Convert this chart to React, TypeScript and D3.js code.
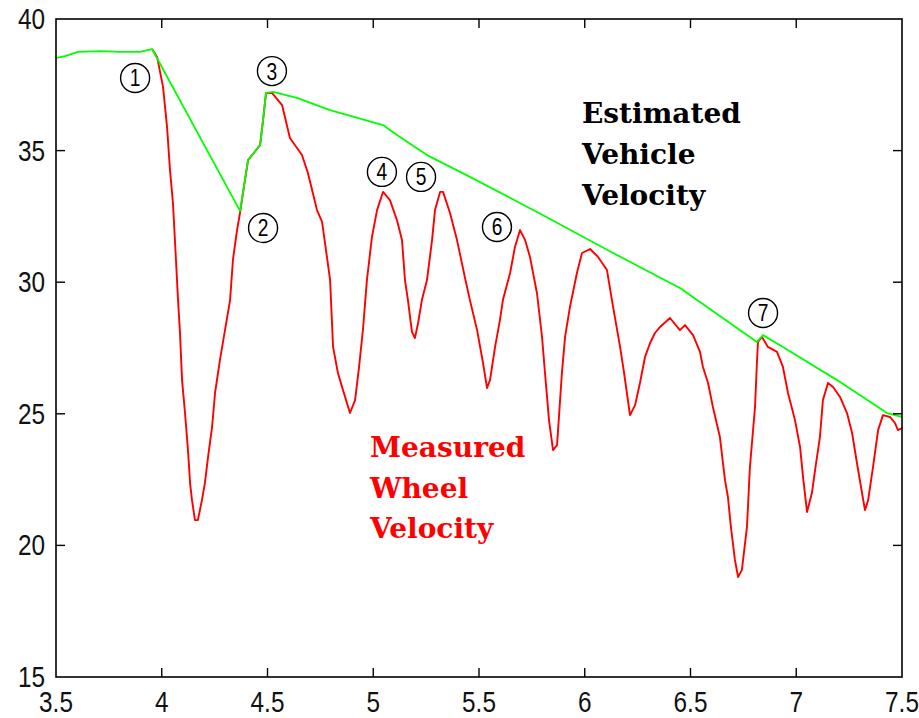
import * as d3 from "d3";

// wheel speed vs. estimated vehicle speed during ABS braking
const wheelX = [3.954, 3.978, 4.006, 4.025, 4.039, 4.053, 4.067, 4.077, 4.086, 4.096, 4.11, 4.124, 4.134, 4.143, 4.157, 4.171, 4.19, 4.204, 4.219, 4.238, 4.252, 4.275, 4.299, 4.323, 4.337, 4.356, 4.37, 4.408, 4.465, 4.479, 4.493, 4.521, 4.569, 4.606, 4.663, 4.691, 4.734, 4.758, 4.781, 4.796, 4.81, 4.833, 4.857, 4.89, 4.914, 4.933, 4.952, 4.97, 4.994, 5.018, 5.046, 5.079, 5.112, 5.136, 5.15, 5.164, 5.183, 5.197, 5.212, 5.23, 5.254, 5.278, 5.292, 5.316, 5.33, 5.363, 5.396, 5.434, 5.457, 5.491, 5.519, 5.538, 5.552, 5.576, 5.599, 5.613, 5.647, 5.67, 5.694, 5.718, 5.741, 5.774, 5.798, 5.812, 5.831, 5.85, 5.869, 5.892, 5.907, 5.93, 5.963, 5.987, 6.025, 6.063, 6.105, 6.134, 6.167, 6.186, 6.214, 6.238, 6.261, 6.285, 6.309, 6.332, 6.356, 6.403, 6.45, 6.474, 6.512, 6.545, 6.559, 6.583, 6.606, 6.639, 6.663, 6.677, 6.691, 6.71, 6.725, 6.743, 6.767, 6.781, 6.805, 6.814, 6.819, 6.838, 6.866, 6.909, 6.937, 6.961, 6.994, 7.018, 7.032, 7.051, 7.074, 7.089, 7.112, 7.126, 7.15, 7.174, 7.207, 7.24, 7.264, 7.287, 7.311, 7.325, 7.34, 7.363, 7.387, 7.41, 7.443, 7.467, 7.481, 7.5];
const wheelY = [38.86, 38.56, 37.42, 35.9, 34.26, 33.01, 30.88, 29.32, 28.11, 26.28, 25.03, 23.62, 22.37, 21.72, 20.96, 20.96, 21.72, 22.37, 23.36, 24.5, 25.79, 27.04, 28.18, 29.32, 30.88, 31.98, 32.63, 34.64, 35.21, 36.16, 37.19, 37.19, 36.73, 35.48, 34.83, 34.15, 32.74, 32.29, 30.96, 30.08, 27.54, 26.55, 25.9, 25.03, 25.52, 26.78, 28.26, 30.08, 31.72, 32.74, 33.43, 33.12, 32.36, 31.6, 30.08, 29.32, 28.11, 27.88, 28.45, 29.32, 30.08, 31.6, 32.74, 33.43, 33.43, 32.63, 31.6, 30.16, 29.32, 28.18, 26.93, 25.98, 26.28, 27.54, 28.56, 29.32, 30.35, 31.34, 31.98, 31.6, 30.96, 29.59, 27.92, 26.55, 24.76, 23.62, 23.81, 26.55, 27.92, 29.06, 30.35, 31.11, 31.26, 30.96, 30.46, 29.06, 27.54, 26.55, 24.95, 25.33, 26.17, 27.16, 27.69, 28.07, 28.3, 28.64, 28.18, 28.37, 27.99, 27.35, 26.78, 26.17, 25.26, 24.12, 22.48, 21.84, 20.7, 19.45, 18.8, 19.07, 20.7, 22.98, 25.26, 26.93, 27.73, 27.92, 27.54, 27.35, 26.78, 25.79, 24.76, 23.74, 22.6, 21.27, 21.99, 22.86, 24.12, 25.52, 26.17, 26.02, 25.64, 25.03, 24.27, 23.13, 21.99, 21.34, 21.72, 22.98, 24.38, 24.95, 24.88, 24.65, 24.38, 24.46];

const vehicleX = [3.5, 3.543, 3.604, 3.708, 3.803, 3.897, 3.954, 4.37, 4.408, 4.465, 4.479, 4.493, 4.526, 4.639, 4.796, 5.046, 5.112, 5.254, 5.457, 5.774, 6.134, 6.45, 6.814, 6.843, 6.937, 7.193, 7.429, 7.5];
const vehicleY = [38.52, 38.59, 38.75, 38.78, 38.75, 38.75, 38.86, 32.71, 34.64, 35.21, 36.16, 37.19, 37.23, 37.0, 36.54, 35.97, 35.59, 34.83, 34.0, 32.67, 31.11, 29.78, 27.73, 27.99, 27.54, 26.28, 25.03, 24.88];

const xTicks = [3.5, 4, 4.5, 5, 5.5, 6, 6.5, 7, 7.5];
const yTicks = [15, 20, 25, 30, 35, 40];

const markerLabels = ["1", "2", "3", "4", "5", "6", "7"];
const markerX = [3.874, 4.479, 4.521, 5.041, 5.226, 5.585, 6.843];
const markerY = [37.76, 32.06, 38.02, 34.19, 34.0, 32.1, 28.83];

const vehicleText = ["Estimated", "Vehicle", "Velocity"];
const vehicleTextX = 5.987;
const vehicleTextY = [36.05, 34.49, 32.93];
const wheelText = ["Measured", "Wheel", "Velocity"];
const wheelTextX = 4.985;
const wheelTextY = [23.36, 21.8, 20.28];

const W = 919;
const H = 718;
const M = { left: 56, right: 17, top: 19, bottom: 41 };

export default function App() {
  const x = d3.scaleLinear().domain([3.5, 7.5]).range([M.left, W - M.right]);
  const y = d3.scaleLinear().domain([15, 40]).range([H - M.bottom, M.top]);
  const line = d3.line<[number, number]>().x(d => x(d[0])).y(d => y(d[1]));
  const wheel = wheelX.map((v, i) => [v, wheelY[i]] as [number, number]);
  const vehicle = vehicleX.map((v, i) => [v, vehicleY[i]] as [number, number]);
  const tk = 9;
  const tickFont = "'Liberation Sans', Arial, sans-serif";
  const noteFont = "'DejaVu Serif', serif";

  return (
    <svg width={W} height={H} style={{ position: "fixed", left: 0, top: 0, background: "#fff" }}>
      <rect x={0} y={0} width={W} height={H} fill="#fff" />
      {/* data */}
      <path d={line(wheel) ?? ""} fill="none" stroke="#ff0000" strokeWidth={1.9} strokeLinejoin="round" />
      <path d={line(vehicle) ?? ""} fill="none" stroke="#00ff00" strokeWidth={1.8} strokeLinejoin="round" />

      {/* box + inward ticks */}
      <rect x={M.left} y={M.top} width={W - M.left - M.right} height={H - M.top - M.bottom}
        fill="none" stroke="#000" strokeWidth={1.6} />
      {xTicks.slice(1, -1).map(t => (
        <g key={"xt" + t} stroke="#000" strokeWidth={1.4}>
          <line x1={x(t)} x2={x(t)} y1={y(15)} y2={y(15) - tk} />
          <line x1={x(t)} x2={x(t)} y1={y(40)} y2={y(40) + tk} />
        </g>
      ))}
      {yTicks.slice(1, -1).map(t => (
        <g key={"yt" + t} stroke="#000" strokeWidth={1.4}>
          <line x1={x(3.5)} x2={x(3.5) + tk} y1={y(t)} y2={y(t)} />
          <line x1={x(7.5)} x2={x(7.5) - tk} y1={y(t)} y2={y(t)} />
        </g>
      ))}
      {xTicks.map(t => (
        <text key={"xl" + t} transform={`translate(${x(t)},${H - 6}) scale(0.84,1)`}
          textAnchor="middle" fontFamily={tickFont} fontSize={29} fill="#111">{t}</text>
      ))}
      {yTicks.map(t => (
        <text key={"yl" + t} transform={`translate(${M.left - 11},${y(t) + 10}) scale(0.84,1)`}
          textAnchor="end" fontFamily={tickFont} fontSize={29} fill="#111">{t}</text>
      ))}

      {/* circled markers */}
      {markerLabels.map((m, i) => (
        <g key={"m" + m}>
          <circle cx={x(markerX[i])} cy={y(markerY[i])} r={14.5} fill="#fff" stroke="#000" strokeWidth={1.4} />
          <text transform={`translate(${x(markerX[i])},${y(markerY[i]) + 8.5}) scale(0.8,1)`} textAnchor="middle"
            fontFamily={tickFont} fontSize={24} fill="#000">{m}</text>
        </g>
      ))}

      {/* annotations */}
      {vehicleText.map((s, i) => (
        <text key={"vt" + i} x={x(vehicleTextX)} y={y(vehicleTextY[i])} fontFamily={noteFont}
          fontWeight="bold" fontSize={28} fill="#000">{s}</text>
      ))}
      {wheelText.map((s, i) => (
        <text key={"wt" + i} x={x(wheelTextX)} y={y(wheelTextY[i])} fontFamily={noteFont}
          fontWeight="bold" fontSize={28} fill="#ff0000">{s}</text>
      ))}
    </svg>
  );
}
